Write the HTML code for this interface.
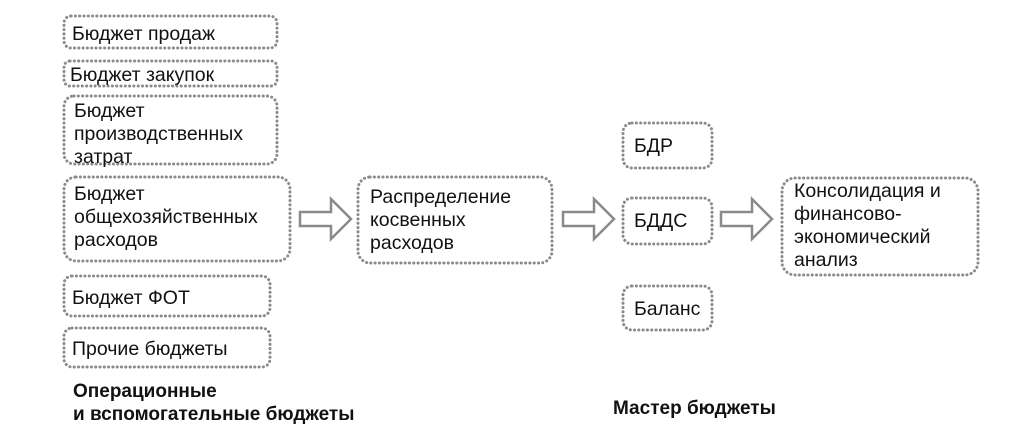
<!DOCTYPE html>
<html><head><meta charset="utf-8"><style>
html,body{margin:0;padding:0;background:#fff;}
svg text{font-family:"Liberation Sans","DejaVu Sans",sans-serif;fill:#111;font-size:19.5px;}
.b{fill:none;stroke:#8a8a8a;stroke-width:3;stroke-dasharray:0.1 4.2;stroke-linecap:round;}
.a{fill:#fff;stroke:#8a8a8a;stroke-width:2.5;}
.h{font-weight:bold;font-size:19px;}
</style></head><body>
<svg width="1024" height="438" viewBox="0 0 1024 438" xmlns="http://www.w3.org/2000/svg">
<rect class="b" x="64" y="16" width="213" height="32" rx="7"/>
<rect class="b" x="64" y="61" width="213" height="25" rx="6"/>
<rect class="b" x="64" y="96" width="213" height="68" rx="10"/>
<rect class="b" x="64" y="177" width="226" height="84" rx="12"/>
<rect class="b" x="64" y="276" width="206" height="40" rx="8"/>
<rect class="b" x="64" y="328" width="206" height="39" rx="8"/>
<rect class="b" x="358" y="177" width="194" height="86" rx="12"/>
<rect class="b" x="623" y="123" width="89" height="45" rx="9"/>
<rect class="b" x="623" y="198" width="89" height="46" rx="9"/>
<rect class="b" x="623" y="286" width="89" height="44" rx="9"/>
<rect class="b" x="782" y="178" width="196" height="97" rx="13"/>
<polygon class="a" points="300,212 331,212 331,199 351,219 331,239 331,226 300,226"/>
<polygon class="a" points="563,212 594,212 594,199 614,219 594,239 594,226 563,226"/>
<polygon class="a" points="721,212 752,212 752,199 772,219 752,239 752,226 721,226"/>
<text x="72" y="40">Бюджет продаж</text>
<text x="70" y="81">Бюджет закупок</text>
<text x="74" y="117">Бюджет</text>
<text x="74" y="140">производственных</text>
<text x="74" y="163">затрат</text>
<text x="74" y="200">Бюджет</text>
<text x="74" y="223">общехозяйственных</text>
<text x="74" y="246">расходов</text>
<text x="72" y="304">Бюджет ФОТ</text>
<text x="72" y="355">Прочие бюджеты</text>
<text x="370" y="203">Распределение</text>
<text x="370" y="226">косвенных</text>
<text x="370" y="249">расходов</text>
<text x="634" y="152">БДР</text>
<text x="634" y="227">БДДС</text>
<text x="634" y="315">Баланс</text>
<text x="794" y="197">Консолидация и</text>
<text x="794" y="220">финансово-</text>
<text x="794" y="243">экономический</text>
<text x="794" y="266">анализ</text>
<text class="h" x="73" y="397">Операционные</text>
<text class="h" x="73" y="420">и вспомогательные бюджеты</text>
<text class="h" x="613" y="414">Мастер бюджеты</text>
</svg>
</body></html>
